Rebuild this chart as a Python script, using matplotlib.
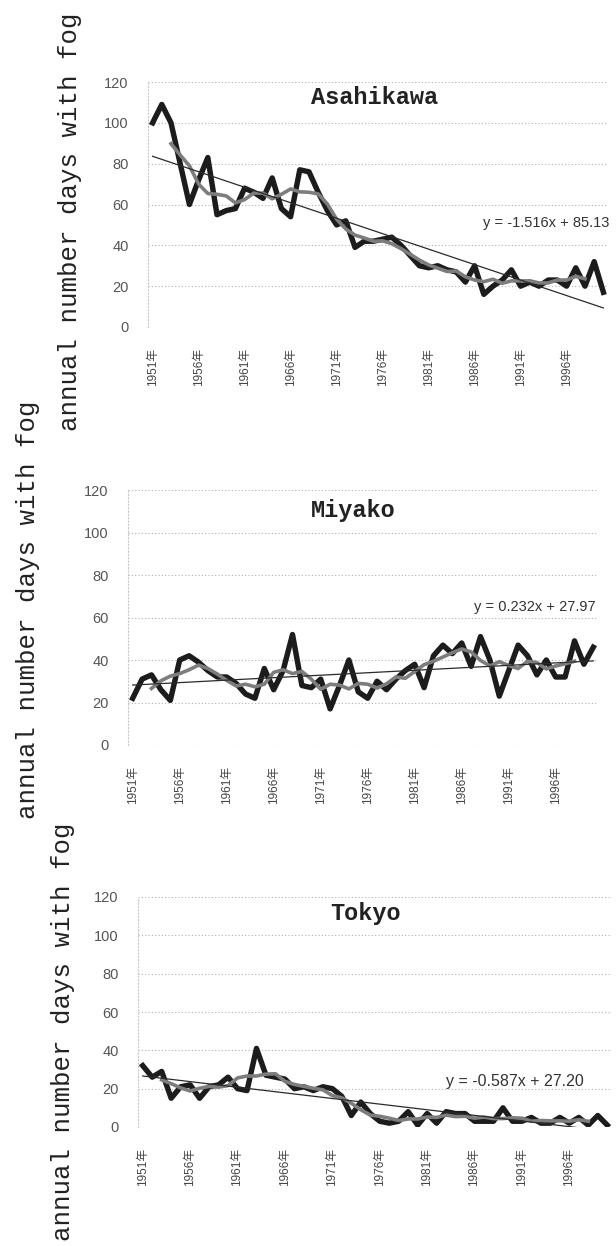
import matplotlib
matplotlib.use("Agg")
import matplotlib.pyplot as plt
import numpy as np
import pandas as pd

years = list(range(1951, 2001))
tick_years = list(range(1951, 2000, 5))
tick_labels = [f"{y}年" for y in tick_years]

stations = ["Asahikawa", "Miyako", "Tokyo"]

asahikawa = [100, 109, 100, 80, 60, 72, 83, 55, 57, 58,
             68, 66, 63, 73, 58, 54, 77, 76, 66, 57,
             50, 52, 39, 42, 42, 43, 44, 40, 35, 30,
             29, 30, 28, 27, 22, 30, 16, 20, 23, 28,
             20, 22, 20, 23, 23, 20, 29, 20, 32, 17]

miyako = [22, 31, 33, 26, 21, 40, 42, 39, 35, 32,
          32, 29, 24, 22, 36, 26, 35, 52, 28, 27,
          31, 17, 28, 40, 25, 22, 30, 26, 31, 35,
          38, 27, 42, 47, 43, 48, 37, 51, 40, 23,
          35, 47, 42, 33, 40, 32, 32, 49, 38, 46]

tokyo = [32, 26, 29, 15, 21, 22, 15, 21, 22, 26,
         20, 19, 41, 27, 26, 25, 20, 21, 19, 21,
         20, 16, 6, 13, 7, 3, 2, 3, 8, 1,
         7, 2, 8, 7, 7, 3, 3, 3, 10, 3,
         3, 5, 2, 2, 5, 2, 5, 1, 6, 1]

series = [asahikawa, miyako, tokyo]
trend_slope = [-1.516, 0.232, -0.587]
trend_intercept = [85.13, 27.97, 27.20]
equations = ["y = -1.516x + 85.13", "y = 0.232x + 27.97", "y = -0.587x + 27.20"]
ylabel = "annual number days with fog"

W, H = 616, 1246
fig = plt.figure(figsize=(W / 100, H / 100), dpi=100)

# axes rectangles in pixels: left, right, top(y=120), bottom(y=0)
rects = [(148, 608, 82, 327), (128, 598, 490, 745), (138, 612, 897, 1127)]
title_pos = [(0.493, 0.935), (0.479, 0.92), (0.48, 0.93)]
eq_pos = [(1.004, 0.424), (0.994, 0.541), (0.941, 0.196)]
eq_size = [10.5, 10.5, 11.5]
ylabel_pos = [(70, 222), (28, 610), (63, 1032)]

mono = "Liberation Mono"
cjk = ["Liberation Sans", "Noto Sans CJK JP", "DejaVu Sans"]

for i, (name, vals) in enumerate(zip(stations, series)):
    l, r, t, b = rects[i]
    ax = fig.add_axes([l / W, 1 - b / H, (r - l) / W, (b - t) / H])
    x = np.arange(1, len(vals) + 1)
    ax.set_xlim(0.5, len(vals) + 0.5)
    ax.set_ylim(0, 120)
    ax.set_yticks(range(0, 121, 20))
    ax.yaxis.grid(True, color="#b0b0b0", linestyle=(0, (1, 2)), linewidth=0.8)
    ax.set_axisbelow(True)
    for s in ["top", "right", "bottom"]:
        ax.spines[s].set_visible(False)
    ax.spines["left"].set_color("#c8c8c8")
    ax.spines["left"].set_linestyle((0, (1, 2)))
    ax.spines["left"].set_linewidth(0.8)

    ma = pd.Series(vals, dtype=float).rolling(5, center=True).mean()
    trend = trend_slope[i] * x + trend_intercept[i]

    ax.plot(x, vals, color="#1c1c1c", lw=3.9, solid_joinstyle="round", zorder=3)
    ax.plot(x, ma, color="#7d7d7d", lw=2.6, zorder=4)
    ax.plot(x, trend, color="#2a2a2a", lw=0.9, zorder=5)

    ax.set_xticks(np.array(tick_years) - years[0] + 1)
    ax.set_xticklabels(tick_labels, rotation=90, fontsize=8.5, color="#444444",
                       family=cjk)
    ax.tick_params(axis="x", length=0, pad=15)
    ax.tick_params(axis="y", length=0, pad=14, labelsize=10.5, labelcolor="#555555")
    for lab in ax.get_yticklabels():
        lab.set_family("Liberation Sans")

    tx, ty = title_pos[i]
    ax.text(tx, ty, name, transform=ax.transAxes, ha="center", va="center",
            family=mono, fontsize=17, fontweight="bold", color="#222222")
    ex, ey = eq_pos[i]
    ax.text(ex, ey, equations[i], transform=ax.transAxes, ha="right", va="center",
            family="Liberation Sans", fontsize=eq_size[i], color="#333333")

    lx, ly = ylabel_pos[i]
    fig.text(lx / W, 1 - ly / H, ylabel, rotation=90, ha="center", va="center",
             family=mono, fontsize=18.5, color="#222222")

fig.savefig("out.png", dpi=100)
